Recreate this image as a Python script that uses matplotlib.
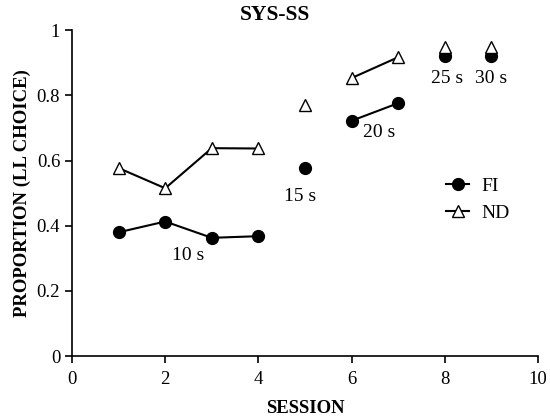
import numpy as np
import matplotlib
matplotlib.use("Agg")
from matplotlib import pyplot as plt

plt.rcParams['font.family'] = ['Liberation Serif', 'DejaVu Serif']

sessions = [1, 2, 3, 4, 5, 6, 7, 8, 9]
fi = [0.38, 0.413, 0.363, 0.368, 0.577, 0.722, 0.776, 0.922, 0.92]
nd = [0.577, 0.515, 0.638, 0.637, 0.769, 0.853, 0.917, 0.948, 0.948]
delay = [10, 10, 10, 10, 15, 20, 20, 25, 30]

label_text = ['10 s', '15 s', '20 s', '25 s', '30 s']
label_x = [2.5, 4.9, 6.6, 8.05, 9.0]
label_y = [0.31, 0.49, 0.687, 0.853, 0.853]

fig = plt.figure(figsize=(5.5, 4.19), dpi=100)
ax = fig.add_axes([0.131, 0.150, 0.847, 0.778])

x = np.array(sessions)
d = np.array(delay)
first = True
for dv in sorted(set(delay)):
    m = d == dv
    ax.plot(x[m], np.array(fi)[m], '-o', color='black', lw=1.5, ms=8.5,
            label='FI' if first else None)
    ax.plot(x[m], np.array(nd)[m], '-^', color='black', mfc='white', lw=1.5,
            ms=8, mew=1.0, label='ND' if first else None)
    first = False

for t, lx, ly in zip(label_text, label_x, label_y):
    ax.text(lx, ly, t, ha='center', va='center', fontsize=14)

ax.set_xlim(0, 10)
ax.set_ylim(0, 1)
ax.set_xticks([0, 2, 4, 6, 8, 10])
ax.set_yticks([0, 0.2, 0.4, 0.6, 0.8, 1])
ax.set_yticklabels(['0', '0.2', '0.4', '0.6', '0.8', '1'])
ax.tick_params(labelsize=13.5, direction='out', length=5, width=1.2)
ax.tick_params(axis='x', pad=6)
for s in ['top', 'right']:
    ax.spines[s].set_visible(False)
for s in ['left', 'bottom']:
    ax.spines[s].set_linewidth(1.2)

ax.set_xlabel('SESSION', fontsize=13.5, fontweight='bold', labelpad=8)
ax.set_ylabel('PROPORTION (LL CHOICE)', fontsize=13.5, fontweight='bold')
fig.text(0.5, 0.965, 'SYS-SS', ha='center', va='center', fontsize=15.5,
         fontweight='bold')

ax.legend(loc='center left', bbox_to_anchor=(0.765, 0.48), frameon=False,
          fontsize=14, handlelength=1.2, handletextpad=0.6, labelspacing=0.45)

fig.savefig('out.png', dpi=100)
